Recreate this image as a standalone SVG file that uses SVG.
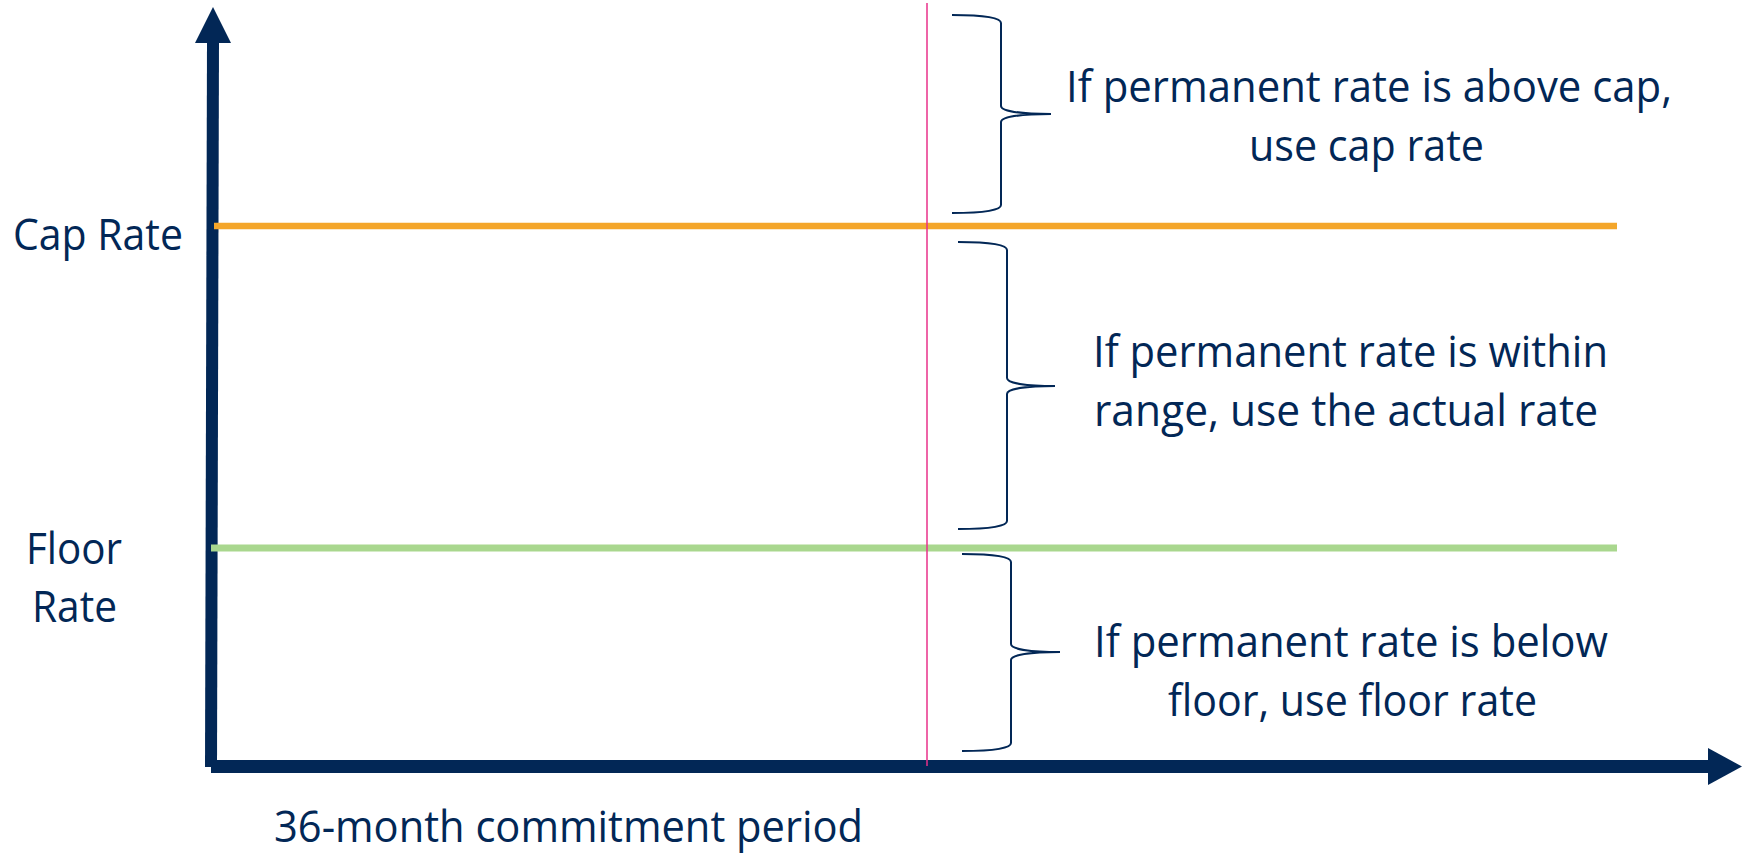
<svg xmlns="http://www.w3.org/2000/svg" width="1742" height="857" viewBox="0 0 1742 857">
<style>
.t{font-family:"Open Sans","Liberation Sans",sans-serif;font-size:43px;fill:#022756}
.brace{fill:none;stroke:#022756;stroke-width:2}
.axis{stroke:#022756;fill:none}
.head{fill:#022756}
</style>
<rect width="1742" height="857" fill="#ffffff"/>
<g id="connectors">
  <g id="y-axis">
    <line class="axis" x1="211" y1="767" x2="213" y2="40" stroke-width="12"/>
    <polygon class="head" points="213,7 195,43 231,43"/>
  </g>
  <g id="x-axis">
    <line class="axis" x1="211" y1="766.5" x2="1710" y2="766.5" stroke-width="13"/>
    <polygon class="head" points="1708,748 1742,766.5 1708,785"/>
  </g>
</g>
<g id="cap-line"><line x1="214" y1="226" x2="1617" y2="226" stroke="#f4a62a" stroke-width="6.5"/></g>
<g id="floor-line"><line x1="211" y1="548" x2="1617" y2="548" stroke="#a9d78e" stroke-width="7"/></g>
<g id="divider"><line x1="927" y1="3" x2="927" y2="766" stroke="#e8308a" stroke-width="1.5"/></g>
<g id="brace-above"><path class="brace" d="M952,15 C985,15 1001,18 1001,23 V106 C1001,111 1020,114 1051,114 C1020,114 1001,117 1001,122 V205 C1001,210 985,213 952,213"/></g>
<g id="brace-within"><path class="brace" d="M958,242 C991,242 1007,245 1007,250 V378 C1007,383 1026,386 1055,386 C1026,386 1007,389 1007,394 V521 C1007,526 991,529 958,529"/></g>
<g id="brace-below"><path class="brace" d="M962,554 C995,554 1011,557 1011,562 V644 C1011,649 1030,652 1060,652 C1030,652 1011,655 1011,660 V743 C1011,748 995,751 962,751"/></g>
<g id="label-above">
  <text class="t" x="1066" y="102" textLength="606" lengthAdjust="spacingAndGlyphs">If permanent rate is above cap,</text>
  <text class="t" x="1249" y="161" textLength="235" lengthAdjust="spacingAndGlyphs">use cap rate</text>
</g>
<g id="label-within">
  <text class="t" x="1093" y="367" textLength="515" lengthAdjust="spacingAndGlyphs">If permanent rate is within</text>
  <text class="t" x="1094" y="426" textLength="504" lengthAdjust="spacingAndGlyphs">range, use the actual rate</text>
</g>
<g id="label-below">
  <text class="t" x="1094" y="657" textLength="514" lengthAdjust="spacingAndGlyphs">If permanent rate is below</text>
  <text class="t" x="1168" y="716" textLength="369" lengthAdjust="spacingAndGlyphs">floor, use floor rate</text>
</g>
<g id="label-cap"><text class="t" x="13" y="250" textLength="170" lengthAdjust="spacingAndGlyphs">Cap Rate</text></g>
<g id="label-floor">
  <text class="t" x="26" y="564" textLength="96" lengthAdjust="spacingAndGlyphs">Floor</text>
  <text class="t" x="32" y="622" textLength="85" lengthAdjust="spacingAndGlyphs">Rate</text>
</g>
<g id="label-period"><text class="t" x="274" y="842" textLength="589" lengthAdjust="spacingAndGlyphs">36-month commitment period</text></g>
</svg>
